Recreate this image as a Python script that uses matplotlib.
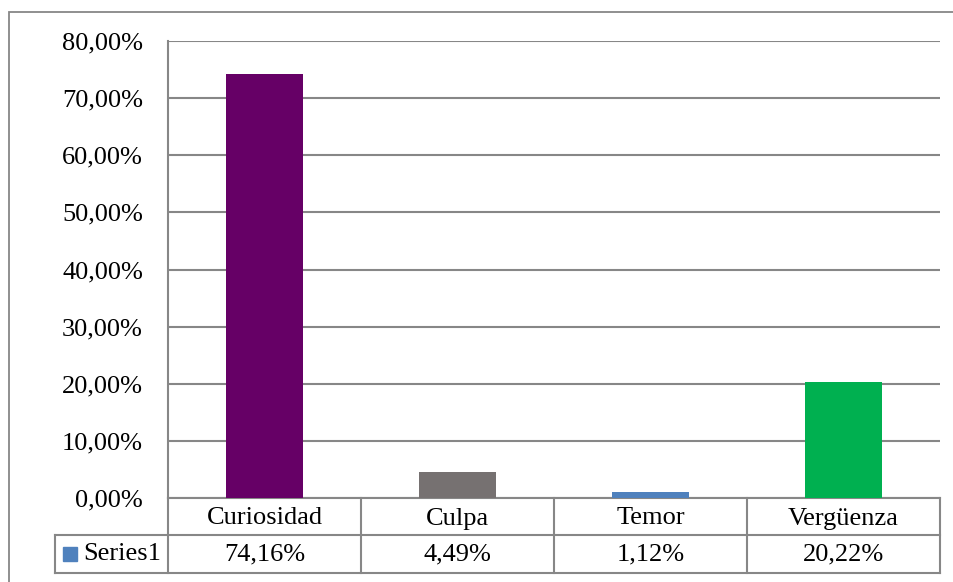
import matplotlib
matplotlib.use("Agg")
import matplotlib.pyplot as plt
from matplotlib.lines import Line2D
from matplotlib.patches import Rectangle
import matplotlib.transforms as mtransforms

categories = ["Curiosidad", "Culpa", "Temor", "Vergüenza"]
values = [74.16, 4.49, 1.12, 20.22]
value_labels = ["74,16%", "4,49%", "1,12%", "20,22%"]
series_name = "Series1"
bar_colors = ["#660066", "#767171", "#4F81BD", "#00B050"]
legend_color = "#4F81BD"
yticks = [0, 10, 20, 30, 40, 50, 60, 70, 80]
ytick_labels = ["0,00%", "10,00%", "20,00%", "30,00%", "40,00%", "50,00%", "60,00%", "70,00%", "80,00%"]

plt.rcParams['font.family'] = ['Liberation Serif', 'DejaVu Serif']
FS = 19
GRID = "#878787"

W, H = 954, 582
fig = plt.figure(figsize=(W / 100, H / 100), dpi=100)

def px(x0, y0, x1, y1):
    return [x0 / W, 1 - y1 / H, (x1 - x0) / W, (y1 - y0) / H]

# outer chart frame (right and bottom edges fall outside the image)
fig.add_artist(Rectangle((9 / W, -0.05), 1.0, 1 - 12 / H + 0.05,
                         transform=fig.transFigure, fill=False,
                         edgecolor=GRID, linewidth=1.3))

ax = fig.add_axes(px(168, 41, 940, 498))
x = list(range(len(categories)))
ax.bar(x, values, width=0.4, color=bar_colors, zorder=3)
ax.set_xlim(-0.5, len(categories) - 0.5)
ax.set_ylim(0, 80)
ax.set_yticks(yticks)
ax.set_yticklabels(ytick_labels, fontsize=FS)
ax.tick_params(axis='y', length=0, pad=18)
ax.set_xticks([])
ax.grid(axis='y', color=GRID, linewidth=1.5, zorder=0)
for s in ["top", "right", "bottom"]:
    ax.spines[s].set_visible(False)
ax.spines["left"].set_color(GRID)
ax.spines["left"].set_linewidth(1.5)

# data table beneath the axes
tr = mtransforms.blended_transform_factory(ax.transData, ax.transAxes)
h_ax = 457.0
r1 = -37 / h_ax
r2 = -75 / h_ax
left_lbl = -0.5 - 113 / 193
xr = len(categories) - 0.5

def line(xs, ys):
    ax.add_line(Line2D(xs, ys, transform=tr, color=GRID, linewidth=1.5, clip_on=False))

line([-0.5, xr], [0, 0])
line([left_lbl, xr], [r1, r1])
line([left_lbl, xr], [r2, r2])
line([left_lbl, left_lbl], [r1, r2])
for i in range(len(categories) + 1):
    line([i - 0.5, i - 0.5], [0, r2])

for i, (c, v) in enumerate(zip(categories, value_labels)):
    ax.text(i, r1 / 2 - 2 / h_ax, c, transform=tr, ha='center', va='center', fontsize=FS)
    ax.text(i, (r1 + r2) / 2, v, transform=tr, ha='center', va='center', fontsize=FS)

ax.add_patch(Rectangle((left_lbl + 8 / 193, (r1 + r2) / 2 - 7 / h_ax), 14 / 193, 14 / h_ax,
                       transform=tr, color=legend_color, clip_on=False))
ax.text(left_lbl + 28 / 193, (r1 + r2) / 2, series_name, transform=tr,
        ha='left', va='center', fontsize=FS)

fig.savefig("out.png", dpi=100)
